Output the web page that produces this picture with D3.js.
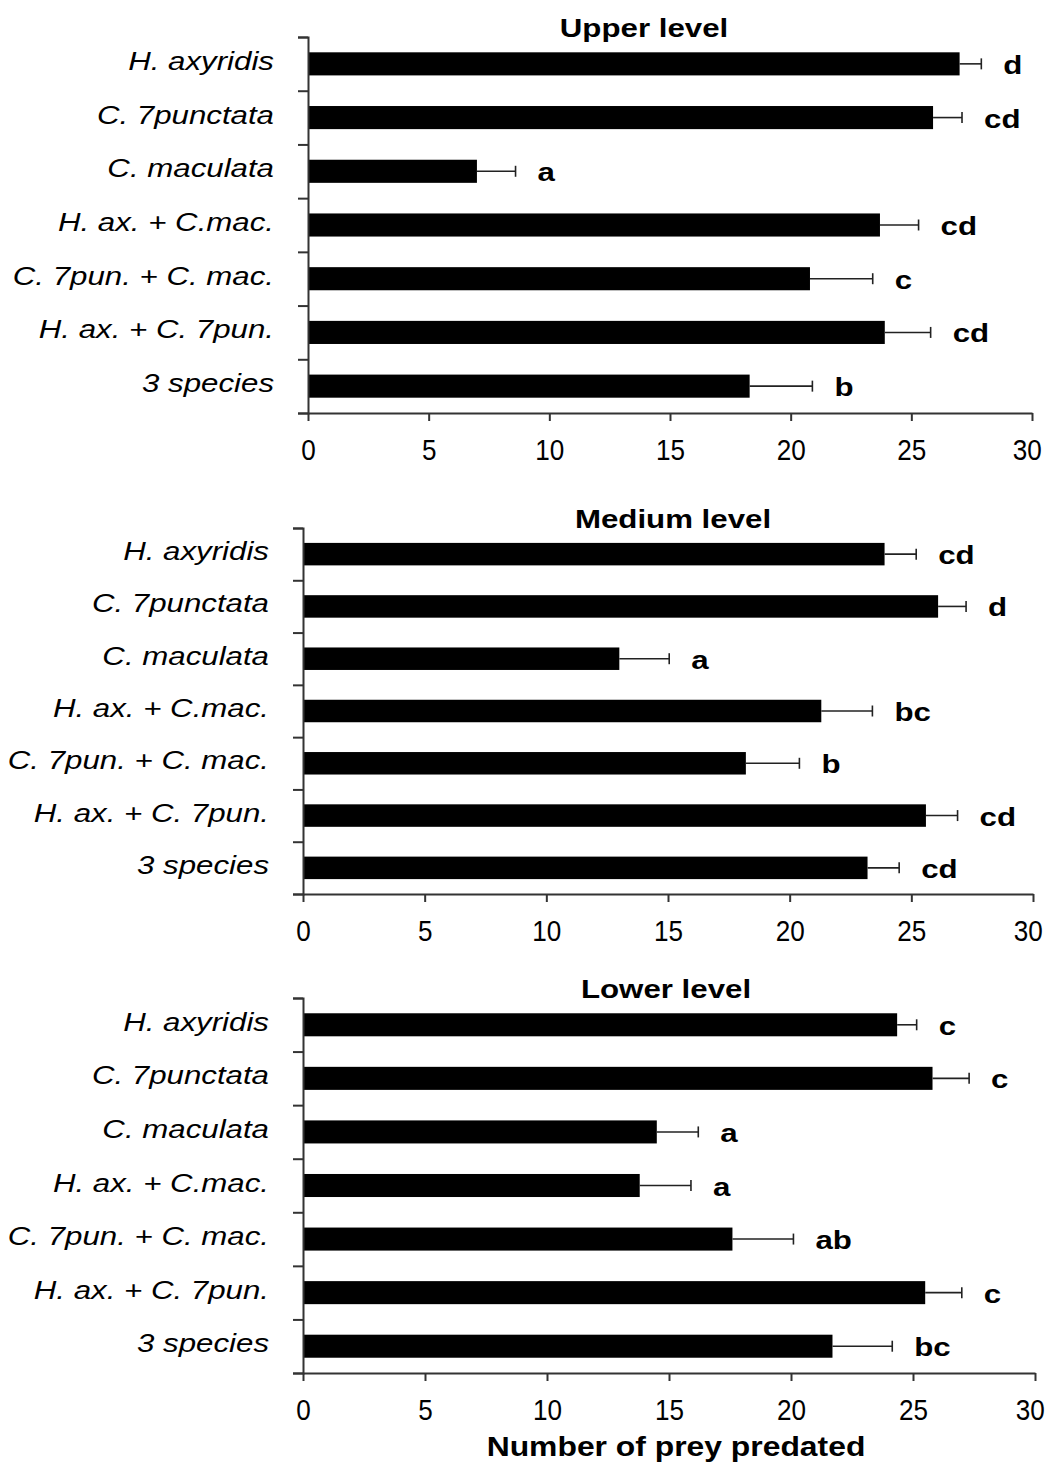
<!DOCTYPE html>
<html>
<head>
<meta charset="utf-8">
<script src="https://cdn.jsdelivr.net/npm/d3@7"></script>
<style>
  body { margin: 0; background: #fff; }
  text { font-family: "Liberation Sans", Arial, sans-serif; fill: #000; }
</style>
</head>
<body>
<svg id="chart"></svg>
<script>
// categories (top to bottom)
const categories = ['H. axyridis', 'C. 7punctata', 'C. maculata', 'H. ax. + C.mac.',
  'C. 7pun. + C. mac.', 'H. ax. + C. 7pun.', '3 species'];

// Upper level
const upperMeans = [27.0, 25.9, 7.0, 23.7, 20.8, 23.9, 18.3];
const upperErrors = [0.9, 1.2, 1.6, 1.6, 2.6, 1.9, 2.6];
const upperLetters = ['d', 'cd', 'a', 'cd', 'c', 'cd', 'b'];

// Medium level
const mediumMeans = [23.9, 26.1, 13.0, 21.3, 18.2, 25.6, 23.2];
const mediumErrors = [1.3, 1.15, 2.05, 2.1, 2.2, 1.3, 1.3];
const mediumLetters = ['cd', 'd', 'a', 'bc', 'b', 'cd', 'cd'];

// Lower level
const lowerMeans = [24.35, 25.8, 14.5, 13.8, 17.6, 25.5, 21.7];
const lowerErrors = [0.8, 1.5, 1.7, 2.1, 2.5, 1.5, 2.45];
const lowerLetters = ['c', 'c', 'a', 'a', 'ab', 'c', 'bc'];

const xTicks = [0, 5, 10, 15, 20, 25, 30];
const xTitle = 'Number of prey predated';

const WIDTH = 1047;
const HEIGHT = 1463;
const STRETCH = 1.25; // text in the original is a bit wide

const svg = d3.select('#chart')
  .attr('width', WIDTH)
  .attr('height', HEIGHT);

svg.append('rect').attr('width', WIDTH).attr('height', HEIGHT).attr('fill', '#fff');

// helper: horizontally stretched text
function wideText(parent, x, y, str, opts) {
  const g = parent.append('g')
    .attr('transform', `translate(${x},${y}) scale(${opts.sx || STRETCH},1)`);
  return g.append('text')
    .attr('text-anchor', opts.anchor || 'start')
    .style('font-size', opts.size + 'px')
    .style('font-weight', opts.bold ? 'bold' : 'normal')
    .style('font-style', opts.italic ? 'italic' : 'normal')
    .text(str);
}

function drawPanel(cfg) {
  const { title, means, errors, letters, left, right, top, bottom, titleX } = cfg;
  const g = svg.append('g');

  const x = d3.scaleLinear().domain([0, 30]).range([left, right]);
  const y = d3.scaleBand().domain(categories).range([top, bottom]).paddingInner(0.57).paddingOuter(0.285);
  const yIdx = d3.scaleLinear().domain([0, categories.length]).range([top, bottom]);

  // bars
  g.selectAll('.bar')
    .data(means)
    .enter().append('rect')
    .attr('class', 'bar')
    .attr('x', x(0))
    .attr('y', (d, i) => y(categories[i]))
    .attr('width', d => x(d) - x(0))
    .attr('height', y.bandwidth())
    .attr('fill', '#000');

  // error bars
  const capH = 11;
  means.forEach((m, i) => {
    const cy = y(categories[i]) + y.bandwidth() / 2;
    const xe = x(m + errors[i]);
    g.append('line')
      .attr('x1', x(m)).attr('x2', xe)
      .attr('y1', cy).attr('y2', cy)
      .attr('stroke', '#222').attr('stroke-width', 1.6);
    g.append('line')
      .attr('x1', xe).attr('x2', xe)
      .attr('y1', cy - capH / 2).attr('y2', cy + capH / 2)
      .attr('stroke', '#222').attr('stroke-width', 1.6);
    // significance letters
    wideText(g, xe + 22, cy + 10, letters[i], { size: 25, bold: true });
  });

  // y axis (ticks at band boundaries)
  const yAxis = g.append('g')
    .attr('transform', `translate(${left},0)`)
    .call(d3.axisLeft(yIdx).ticks(categories.length).tickSize(10).tickFormat(''));
  yAxis.select('.domain').attr('stroke', '#333').attr('stroke-width', 2);
  yAxis.selectAll('.tick line').attr('stroke', '#333').attr('stroke-width', 2);

  // x axis
  const xAxis = g.append('g')
    .attr('transform', `translate(0,${bottom})`)
    .call(d3.axisBottom(x).tickValues(xTicks).tickSize(8).tickPadding(18).tickSizeOuter(0));
  xAxis.select('.domain').attr('stroke', '#333').attr('stroke-width', 2);
  xAxis.selectAll('.tick line').attr('stroke', '#333').attr('stroke-width', 2);
  xAxis.selectAll('.tick text')
    .style('font-family', '"Liberation Sans", Arial, sans-serif')
    .style('font-size', '29px')
    .attr('transform', 'scale(0.9,1)')
    .attr('fill', '#000');
  // last label sits a little to the left in the original
  xAxis.selectAll('.tick text').filter(d => d === 30).attr('dx', '-0.2em');

  // category labels
  categories.forEach((c, i) => {
    const cy = y(c) + y.bandwidth() / 2;
    wideText(g, left - 34, cy + 6, c, { size: 25, italic: true, anchor: 'end' });
  });

  // panel title
  wideText(g, titleX, top, title, { size: 25, bold: true, anchor: 'middle' });
}

drawPanel({
  title: 'Upper level', means: upperMeans, errors: upperErrors, letters: upperLetters,
  left: 308, right: 1032, top: 37, bottom: 413, titleX: 644
});
drawPanel({
  title: 'Medium level', means: mediumMeans, errors: mediumErrors, letters: mediumLetters,
  left: 303, right: 1033, top: 528, bottom: 894, titleX: 673
});
drawPanel({
  title: 'Lower level', means: lowerMeans, errors: lowerErrors, letters: lowerLetters,
  left: 303, right: 1035, top: 998, bottom: 1373, titleX: 666
});

// x axis title
wideText(svg, 676, 1456, xTitle, { size: 27, bold: true, anchor: 'middle', sx: 1.18 });
</script>
</body>
</html>
